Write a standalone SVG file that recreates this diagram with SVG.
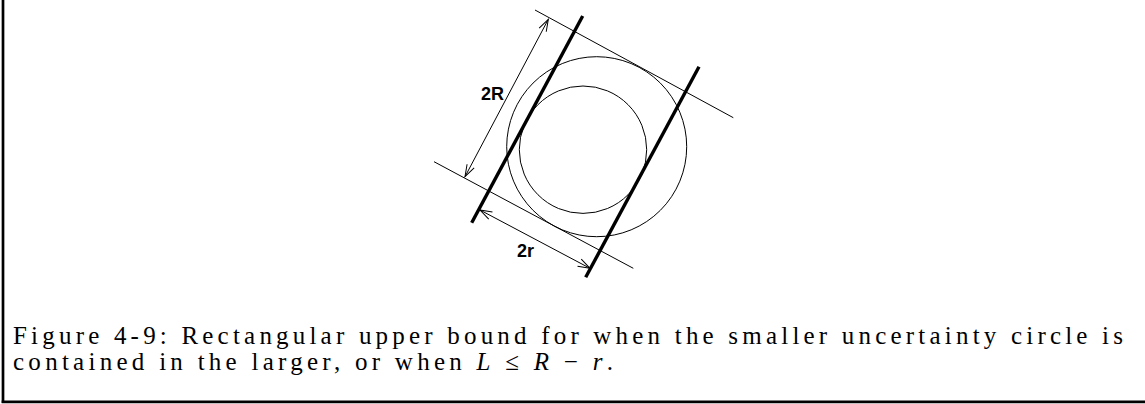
<svg xmlns="http://www.w3.org/2000/svg" width="1145" height="404" viewBox="0 0 1145 404">
<style>
.thin{stroke:#000;stroke-width:1;fill:none}
.thick{stroke:#000;stroke-width:3.4;fill:none}
.lbl{font-family:"Liberation Sans",Arial,sans-serif;font-weight:bold;font-size:18px;fill:#000}
.cap{font-family:"Liberation Serif","Times New Roman",serif;font-size:25px;fill:#000}
</style>
<defs>
<marker id="ah" viewBox="0 0 14 10" refX="13" refY="5" markerWidth="14" markerHeight="10" markerUnits="userSpaceOnUse" orient="auto-start-reverse">
<path d="M1,1 L13,5 L1,9" fill="none" stroke="#000" stroke-width="1"/>
</marker>
</defs>
<rect width="1145" height="404" fill="#fff"/>
<g id="frame">
<line x1="3" y1="0" x2="3" y2="403" stroke="#000" stroke-width="2.7"/>
<line x1="1.7" y1="401.8" x2="1145" y2="401.8" stroke="#000" stroke-width="2.7"/>
</g>
<g id="big-circle"><circle class="thin" cx="596.7" cy="146.7" r="90"/></g>
<g id="small-circle"><circle class="thin" cx="583" cy="149.7" r="63.7"/></g>
<g id="tangent-lines">
<line class="thin" x1="535" y1="10" x2="733.3" y2="117.7"/>
<line class="thin" x1="434" y1="161.7" x2="633.3" y2="268.3"/>
</g>
<g id="bound-lines">
<line class="thick" x1="471.7" y1="222.7" x2="582.7" y2="16"/>
<line class="thick" x1="585.7" y1="277.3" x2="699" y2="66.7"/>
</g>
<g id="connectors">
<line class="thin" x1="465" y1="176.7" x2="548.3" y2="19.3" marker-start="url(#ah)" marker-end="url(#ah)"/>
<line class="thin" x1="480" y1="210" x2="590" y2="268.3" marker-start="url(#ah)" marker-end="url(#ah)"/>
</g>
<g id="labels">
<text class="lbl" x="481" y="100">2R</text>
<text class="lbl" x="517" y="256.5">2r</text>
</g>
<g id="caption">
<text class="cap" x="13" y="344" textLength="1110" lengthAdjust="spacing">Figure 4-9: Rectangular upper bound for when the smaller uncertainty circle is</text>
<text class="cap" x="13" y="369.5" textLength="600" lengthAdjust="spacing">contained in the larger, or when <tspan font-style="italic">L</tspan> ≤ <tspan font-style="italic">R</tspan> − <tspan font-style="italic">r</tspan>.</text>
</g>
</svg>
